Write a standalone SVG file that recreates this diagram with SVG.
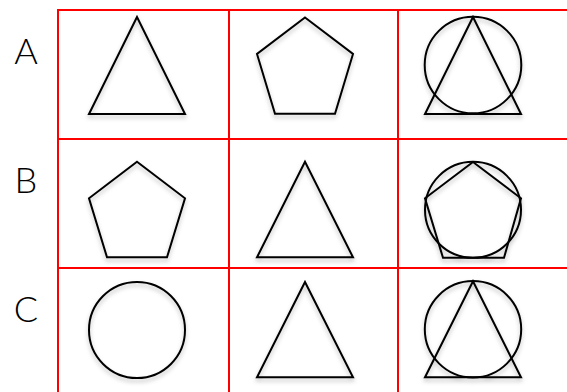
<svg xmlns="http://www.w3.org/2000/svg" width="567" height="392" viewBox="0 0 567 392">
<style>
.grid{stroke:#FF0000;stroke-width:2;fill:none}
.shape{fill:none;stroke:#000;stroke-width:2;stroke-linejoin:miter;filter:url(#sh)}
.lbl{font-family:Lato,"Open Sans","DejaVu Sans",sans-serif;font-size:36px;font-weight:300;fill:#000;text-anchor:middle}
</style>
<defs>
<filter id="sh" x="-20%" y="-20%" width="140%" height="150%">
<feDropShadow dx="0" dy="3" stdDeviation="2" flood-color="#000" flood-opacity="0.25"/>
</filter>
</defs>
<rect width="567" height="392" fill="#fff"/>
<g id="grid">
<line class="grid" x1="58" y1="10" x2="567" y2="10"/>
<line class="grid" x1="58" y1="139" x2="567" y2="139"/>
<line class="grid" x1="58" y1="268" x2="567" y2="268"/>
<line class="grid" x1="58" y1="9" x2="58" y2="392"/>
<line class="grid" x1="229" y1="9" x2="229" y2="392"/>
<line class="grid" x1="398" y1="9" x2="398" y2="392"/>
</g>
<g id="labels">
<text class="lbl" x="26" y="64">A</text>
<text class="lbl" x="26" y="193">B</text>
<text class="lbl" x="26" y="322">C</text>
</g>
<g id="A1"><polygon class="shape" points="137,17 89,114 185,114"/></g>
<g id="A2"><polygon class="shape" points="305,17.5 353,54 335,113.7 275,113.7 257,54"/></g>
<g id="A3"><g class="shape"><circle cx="473" cy="65" r="48.3"/><polygon points="473,17 425,114 521,114"/></g></g>
<g id="B1"><polygon class="shape" points="137,161.7 185,198.3 167,257.3 107,257.3 89,198.3"/></g>
<g id="B2"><polygon class="shape" points="305,161.7 257,257.3 353,257.3"/></g>
<g id="B3"><g class="shape"><circle cx="473" cy="209.8" r="48"/><polygon points="473,162 521,198.3 504,257.7 443,257.7 425,198.3"/></g></g>
<g id="C1"><circle class="shape" cx="137" cy="330" r="48"/></g>
<g id="C2"><polygon class="shape" points="305,282 257,377.3 353,377.3"/></g>
<g id="C3"><g class="shape"><circle cx="473" cy="329.3" r="48.2"/><polygon points="473,281.3 425,377.3 521,377.3"/></g></g>
</svg>
